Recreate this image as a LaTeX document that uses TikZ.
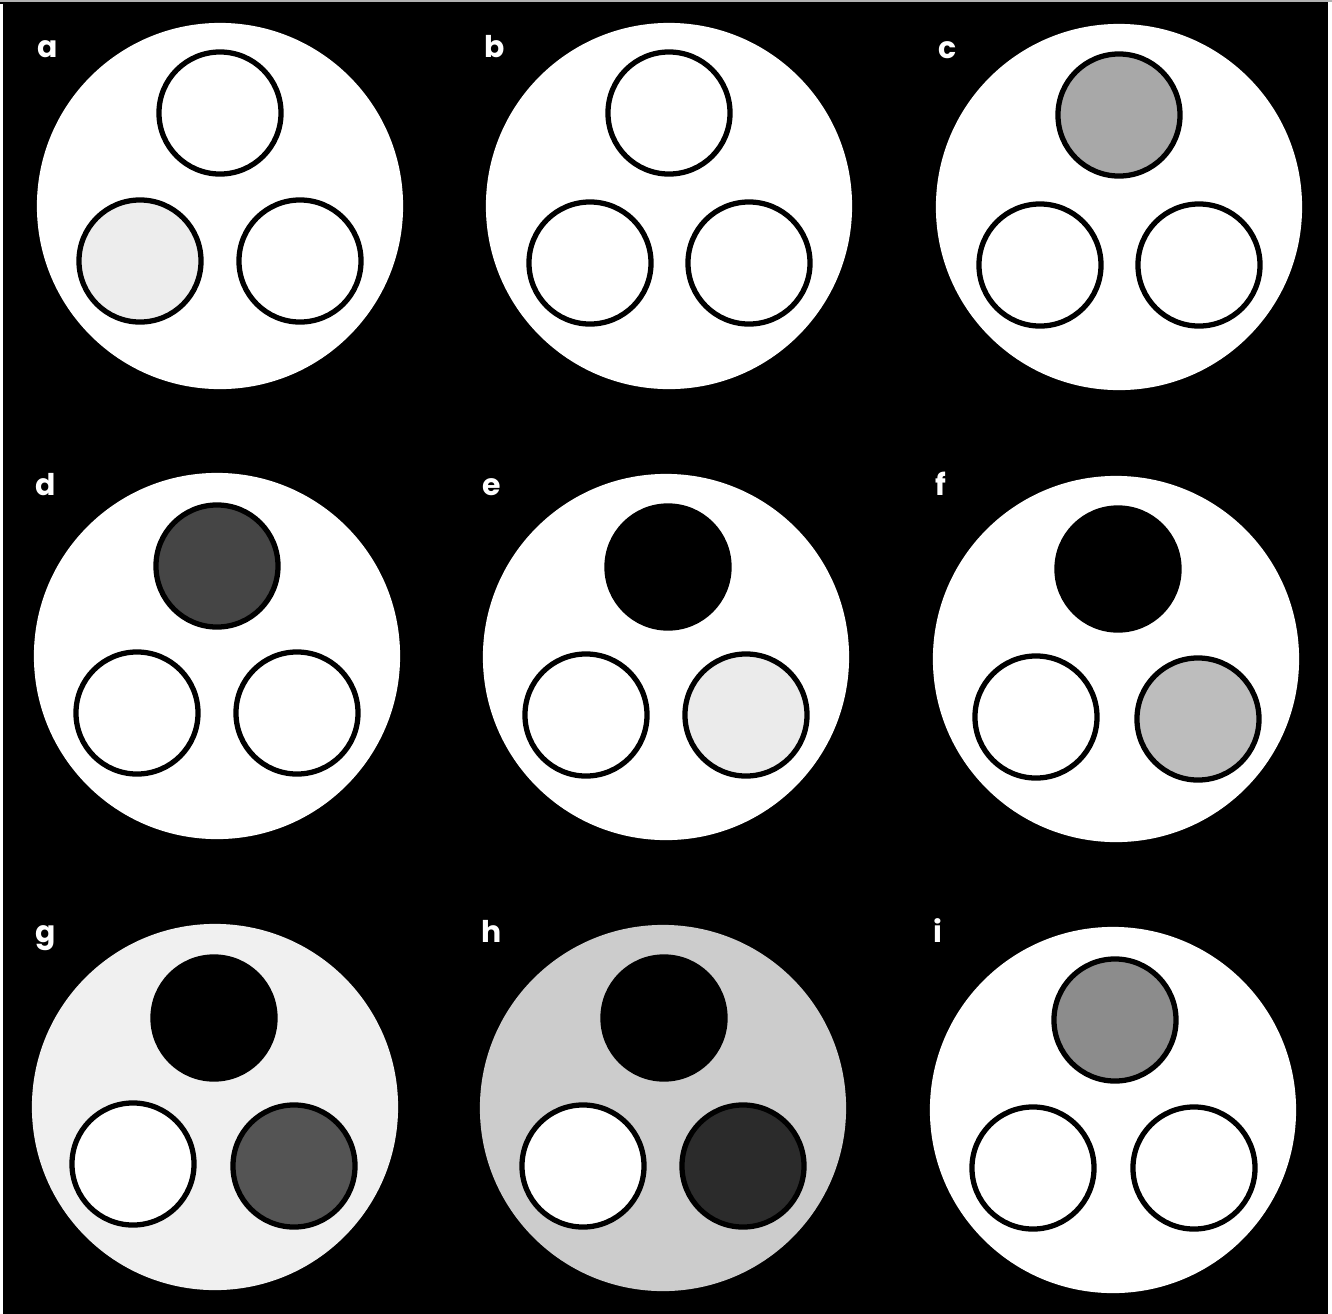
\documentclass[tikz,border=0pt]{standalone}
\usepackage{fontspec}
\setsansfont{Poppins}
\begin{document}
\begin{tikzpicture}[x=0.01cm,y=-0.01cm,
  big/.style={circle, inner sep=0pt, minimum size=3.66cm, draw=none},
  sm/.style={circle, inner sep=0pt, minimum size=1.22cm, draw=black, line width=1.5pt},
  lab/.style={text=white, font=\sffamily\bfseries\fontsize{8.5}{10}\selectfont, inner sep=0pt, anchor=base west}]
\definecolor{gA}{gray}{0.93}
\definecolor{gC}{gray}{0.66}
\definecolor{gD}{gray}{0.27}
\definecolor{gE}{gray}{0.92}
\definecolor{gF}{gray}{0.74}
\definecolor{gG}{gray}{0.94}
\definecolor{gGbr}{gray}{0.33}
\definecolor{gH}{gray}{0.80}
\definecolor{gHbr}{gray}{0.17}
\definecolor{gI}{gray}{0.55}
\useasboundingbox (0,0) rectangle (1332,1314);
\fill[black] (0,0) rectangle (1332,1314);
\fill[white] (0,4) rectangle (3,1314);
\fill[white] (1328,0) rectangle (1332,1314);
\fill[gray!60] (0,0) rectangle (1332,2);
% panel a
\node[big, fill=white] (A) at (220,206) {};
\node[sm, fill=white] (At) at (220,113) {};
\node[sm, fill=gA] (Al) at (140,261) {};
\node[sm, fill=white] (Ar) at (300,261) {};
\node[lab] (La) at (37,57) {a};
% panel b
\node[big, fill=white] (B) at (669,206) {};
\node[sm, fill=white] (Bt) at (669,113) {};
\node[sm, fill=white] (Bl) at (590,263) {};
\node[sm, fill=white] (Br) at (749,263) {};
\node[lab] (Lb) at (484,57) {b};
% panel c
\node[big, fill=white] (C) at (1119,207) {};
\node[sm, fill=gC] (Ct) at (1119,115) {};
\node[sm, fill=white] (Cl) at (1040,265) {};
\node[sm, fill=white] (Cr) at (1199,265) {};
\node[lab] (Lc) at (938,58) {c};
% panel d
\node[big, fill=white] (D) at (217,656) {};
\node[sm, fill=gD] (Dt) at (217,566) {};
\node[sm, fill=white] (Dl) at (137,713) {};
\node[sm, fill=white] (Dr) at (297,713) {};
\node[lab] (Ld) at (35,495) {d};
% panel e
\node[big, fill=white] (E) at (666,657) {};
\node[sm, fill=black] (Et) at (668,567) {};
\node[sm, fill=white] (El) at (586,715) {};
\node[sm, fill=gE] (Er) at (746,715) {};
\node[lab] (Le) at (482,495) {e};
% panel f
\node[big, fill=white] (F) at (1116,659) {};
\node[sm, fill=black] (Ft) at (1118,569) {};
\node[sm, fill=white] (Fl) at (1036,717) {};
\node[sm, fill=gF] (Fr) at (1198,719) {};
\node[lab] (Lf) at (935,495) {f};
% panel g
\node[big, fill=gG] (G) at (215,1107) {};
\node[sm, fill=black] (Gt) at (214,1018) {};
\node[sm, fill=white] (Gl) at (133,1164) {};
\node[sm, fill=gGbr] (Gr) at (294,1166) {};
\node[lab] (Lg) at (35,942) {g};
% panel h
\node[big, fill=gH] (H) at (663,1108) {};
\node[sm, fill=black] (Ht) at (664,1018) {};
\node[sm, fill=white] (Hl) at (583,1166) {};
\node[sm, fill=gHbr] (Hr) at (743,1166) {};
\node[lab] (Lh) at (481,942) {h};
% panel i
\node[big, fill=white] (I) at (1113,1110) {};
\node[sm, fill=gI] (It) at (1115,1020) {};
\node[sm, fill=white] (Il) at (1033,1168) {};
\node[sm, fill=white] (Ir) at (1194,1168) {};
\node[lab] (Li) at (933,942) {i};
\end{tikzpicture}
\end{document}
